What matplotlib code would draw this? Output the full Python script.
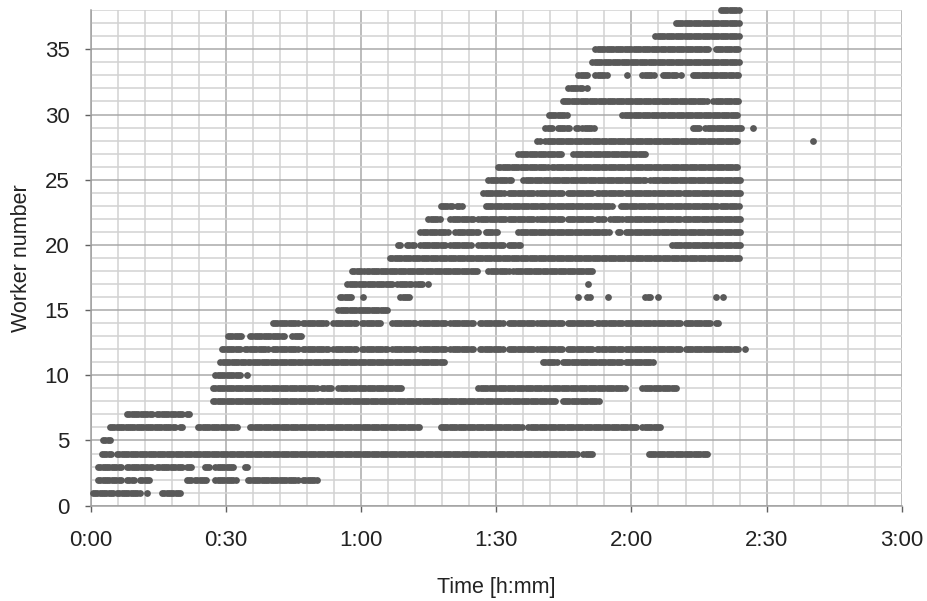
import numpy as np
import matplotlib.pyplot as plt
from matplotlib.ticker import MultipleLocator, FuncFormatter

plt.rcParams['font.family'] = ['Liberation Sans', 'DejaVu Sans']

# activity log is sampled every 30 s
step = 0.5

# active spans per worker: [start, end] in minutes from the start of the run
w1 = [[0.4, 4.9], [5.8, 10.9], [12.4, 12.4], [15.8, 19.8]]
w2 = [[1.6, 6.9], [8.0, 9.6], [10.9, 13.1], [21.3, 22.4], [23.1, 26.0], [27.6, 32.4],
      [34.9, 40.2], [40.4, 46.0], [47.1, 50.2]]
w3 = [[1.6, 6.9], [8.0, 13.6], [14.7, 20.2], [21.3, 22.7], [25.3, 26.4], [27.6, 31.6],
      [34.2, 34.9]]
w4 = [[2.4, 4.7], [5.8, 108.2], [109.3, 111.3], [123.8, 136.9]]
w5 = [[2.7, 4.2]]
w6 = [[4.2, 8.7], [9.1, 18.7], [19.8, 20.4], [23.8, 32.7], [35.3, 73.1], [77.6, 95.6],
      [97.1, 121.3], [122.4, 126.4]]
w7 = [[8.0, 13.6], [14.7, 20.2], [21.3, 22.0]]
w8 = [[27.1, 103.1], [104.7, 113.1]]
w9 = [[27.1, 50.2], [51.3, 53.6], [54.9, 69.1], [86.0, 118.7], [122.4, 130.2]]
w10 = [[27.6, 33.1], [34.7, 34.7]]
w11 = [[28.7, 34.2], [34.9, 78.7], [100.4, 103.8], [104.7, 118.0], [118.7, 124.7]]
w12 = [[29.1, 33.1], [34.2, 39.3], [40.4, 46.0], [47.1, 52.7], [53.8, 59.1], [60.2, 65.8],
       [66.9, 72.0], [73.1, 78.7], [79.8, 84.9], [86.4, 91.6], [92.7, 98.2], [99.1, 104.9],
       [105.8, 111.3], [112.4, 118.0], [118.7, 124.7], [125.3, 130.9], [132.0, 137.6],
       [138.2, 143.8], [145.3, 145.3]]
w13 = [[30.4, 33.8], [35.3, 43.1], [44.7, 46.9]]
w14 = [[40.4, 46.0], [47.1, 52.4], [53.8, 59.1], [60.2, 64.2], [66.9, 72.0], [73.1, 78.7],
       [79.8, 84.9], [86.4, 91.6], [92.7, 98.2], [99.1, 104.7], [105.8, 111.3], [112.4, 118.0],
       [118.7, 124.7], [125.3, 130.9], [132.0, 137.6], [138.7, 139.3]]
w15 = [[54.9, 60.9], [61.3, 65.8]]
w16 = [[55.3, 58.2], [60.4, 60.4], [68.7, 70.9], [108.2, 108.2], [110.2, 110.9],
       [114.7, 114.7], [123.1, 124.2], [125.8, 125.8], [138.7, 138.7], [140.4, 140.4]]
w17 = [[56.9, 67.1], [68.0, 71.3], [72.0, 73.8], [74.9, 74.9], [110.4, 110.4]]
w18 = [[58.0, 60.9], [61.3, 86.0], [88.2, 92.7], [93.8, 111.6]]
w19 = [[66.4, 144.2]]
w20 = [[68.2, 69.1], [70.2, 72.0], [73.1, 78.7], [79.8, 84.7], [86.0, 91.6], [92.7, 95.3],
       [129.1, 131.3], [131.6, 137.6], [138.2, 144.2]]
w21 = [[73.1, 73.8], [74.2, 79.3], [80.9, 86.0], [87.6, 90.4], [94.9, 115.3],
       [116.9, 117.6], [118.7, 144.2]]
w22 = [[74.9, 77.6], [79.8, 84.9], [86.0, 92.0], [92.7, 98.2], [99.1, 104.7], [105.8, 111.3],
       [112.4, 114.2], [115.3, 118.0], [118.7, 124.7], [125.3, 130.9], [131.6, 137.6],
       [138.2, 144.2]]
w23 = [[77.6, 80.4], [81.3, 82.4], [87.6, 100.2], [100.4, 106.9], [107.1, 115.8],
       [117.6, 139.3], [139.8, 144.2]]
w24 = [[87.1, 91.6], [92.7, 98.2], [99.1, 104.7], [105.8, 111.3], [112.4, 118.0],
       [118.7, 124.7], [125.3, 130.9], [131.6, 137.6], [138.2, 144.2]]
w25 = [[88.2, 93.6], [96.0, 123.1], [124.2, 144.2]]
w26 = [[90.4, 101.6], [102.4, 143.8]]
w27 = [[94.9, 104.7], [107.1, 123.1]]
w28 = [[99.1, 99.8], [100.9, 143.6], [160.2, 160.2]]
w29 = [[100.9, 102.4], [103.6, 106.4], [107.6, 108.2], [109.1, 112.0], [133.6, 135.3],
       [136.4, 144.4], [146.9, 146.9]]
w30 = [[101.6, 105.8], [118.0, 143.8]]
w31 = [[104.7, 137.1], [138.2, 143.8]]
w32 = [[106.0, 109.1], [110.2, 110.2]]
w33 = [[108.2, 110.2], [112.0, 114.7], [119.1, 119.1], [122.4, 125.3], [126.9, 130.2],
       [130.9, 130.9], [133.6, 143.8]]
w34 = [[111.3, 143.8]]
w35 = [[112.0, 137.1], [138.7, 143.8]]
w36 = [[125.3, 143.8]]
w37 = [[129.8, 143.8]]
w38 = [[139.8, 143.8]]

workers = [w1, w2, w3, w4, w5, w6, w7, w8, w9, w10, w11, w12, w13, w14, w15, w16, w17,
           w18, w19, w20, w21, w22, w23, w24, w25, w26, w27, w28, w29, w30, w31, w32,
           w33, w34, w35, w36, w37, w38]

# one point per logged sample while the worker is active
times, nums = [], []
for num, spans in enumerate(workers, start=1):
    for start, end in spans:
        t = np.arange(start, end + 1e-6, step)
        times.extend(t)
        nums.extend([num] * len(t))

fig = plt.figure(figsize=(9.27, 6.01), dpi=100)
ax = fig.add_axes([0.0982, 0.1586, 0.8745, 0.8244])

ax.scatter(times, nums, s=24, color='#595959', linewidths=0, zorder=3, clip_on=False)

ax.set_xlim(0, 180)
ax.set_ylim(0, 38)
ax.xaxis.set_major_locator(MultipleLocator(30))
ax.xaxis.set_minor_locator(MultipleLocator(6))
ax.yaxis.set_major_locator(MultipleLocator(5))
ax.yaxis.set_minor_locator(MultipleLocator(1))
ax.xaxis.set_major_formatter(FuncFormatter(lambda v, _: f"{int(v) // 60}:{int(v) % 60:02d}"))

ax.set_axisbelow(True)
ax.grid(which='minor', color='#d2d2d2', linewidth=1.1)
ax.grid(which='major', color='#a9a9a9', linewidth=1.1)

for side in ['top', 'right']:
    ax.spines[side].set_visible(False)
for side in ['left', 'bottom']:
    ax.spines[side].set_color('#a0a0a0')
    ax.spines[side].set_linewidth(1.1)

ax.tick_params(which='major', length=4.5, width=1, color='#606060',
               labelsize=16, labelcolor='#222222', pad=11)
ax.tick_params(axis='x', which='major', pad=13)
ax.tick_params(which='minor', length=0)

ax.set_xlabel('Time [h:mm]', fontsize=15.5, color='#222222', labelpad=19)
ax.set_ylabel('Worker number', fontsize=15.5, color='#222222', labelpad=9)

fig.savefig('out.png', dpi=100)
plt.close(fig)
